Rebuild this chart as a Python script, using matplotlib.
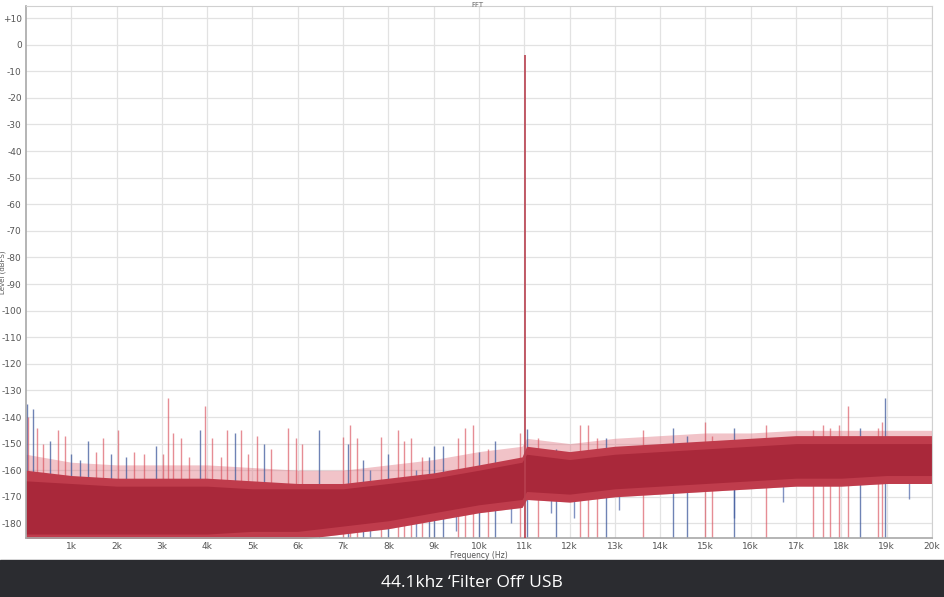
import numpy as np
import matplotlib.pyplot as plt
from matplotlib.patches import Rectangle

# noise floor envelope (Hz, dBFS)
env_freq = [0, 1000, 2000, 3000, 4000, 5000, 6000, 7000, 8000, 9000, 10000,
            10950, 11050, 12000, 13000, 14000, 15000, 16000, 17000, 18000, 19000, 20000]
grass_top = [-154, -157, -158, -158, -158, -159, -160, -160, -158, -156, -153,
             -151, -148, -150, -148, -147, -146, -146, -145, -145, -145, -145]
outer_top = [-160, -162, -163, -163, -163, -164, -165, -165, -163, -161, -158,
             -155, -151, -153, -151, -150, -149, -148, -147, -147, -147, -147]
outer_bot = [-186, -186, -186, -186, -186, -186, -186, -184, -182, -179, -176,
             -174, -171, -172, -170, -169, -168, -167, -166, -166, -165, -165]
core_top = [-164, -165, -166, -166, -166, -167, -167, -167, -165, -163, -160,
            -157, -154, -156, -154, -153, -152, -151, -150, -150, -150, -150]
core_bot = [-184, -184, -184, -184, -184, -183, -183, -181, -179, -176, -173,
            -171, -168, -169, -167, -166, -165, -164, -163, -163, -162, -162]

# spurs of the red trace
red_freq = [40, 240, 370, 700, 860, 1550, 1710, 2040, 2390, 2610, 3030, 3140, 3250,
            3420, 3600, 3950, 4100, 4300, 4440, 4750, 4900, 5110, 5420, 5790, 5960,
            6100, 6990, 7160, 7300, 7840, 8220, 8340, 8510, 8750, 9530, 9700, 9860,
            10200, 10910, 11300, 12240, 12400, 12600, 13610, 14990, 15150, 16340,
            17370, 17600, 17750, 17950, 18150, 18800, 18900]
red_top = [-140, -144, -150, -145, -147, -153, -148, -145, -153, -154, -154, -133, -146,
           -148, -155, -136, -148, -155, -145, -145, -154, -147, -152, -144, -148,
           -150, -147.5, -143, -148, -147.5, -145, -149, -148, -155, -148, -144, -143,
           -152, -146, -148, -143, -143, -148, -145, -142, -147, -143,
           -145, -143, -144, -143, -136, -144, -142]

# spurs of the blue trace
blue_freq = [20, 160, 520, 990, 1200, 1380, 1870, 2200, 2880, 3850, 4610, 5260, 6470,
             7100, 7450, 8000, 8900, 9010, 9200, 10000, 10350, 11060, 11700, 12800,
             14280, 14600, 15640, 18400, 18960]
blue_top = [-135, -137, -149, -154, -156, -149, -154, -155, -151, -145, -146, -150, -145,
            -150, -156, -154, -155, -151, -151, -153, -149, -144.5, -152, -148,
            -144, -147, -144, -144, -133]

# downward dips below the floor
dip_freq = [7600, 8600, 9500, 10700, 11600, 12100, 13100, 15640, 16700, 19500]
dip_low = [-186, -185, -183, -180, -176, -178, -175, -178, -172, -171]

tone_freq = 11025
tone_level = -4

x_ticks = list(range(1000, 20001, 1000))
x_labels = ['%dk' % (t // 1000) for t in x_ticks]
y_ticks = list(range(-180, 11, 10))
y_labels = ['+10' if t > 0 else str(t) for t in y_ticks]

fig = plt.figure(figsize=(9.44, 5.97), dpi=100)
ax = fig.add_axes([0.0275, 0.0988, 0.9598, 0.891])

red = '#a9283a'
ax.fill_between(env_freq, outer_bot, grass_top, color='#e07a86', alpha=0.45, lw=0, zorder=1.4)
ax.vlines(dip_freq, dip_low, -160, color='#4a64a8', lw=1, alpha=0.7, zorder=1.5)
ax.vlines(blue_freq, -186, blue_top, color='#3f5a9c', lw=1, alpha=0.75, zorder=1.6)
ax.vlines(red_freq, -186, red_top, color='#d9505c', lw=1, alpha=0.65, zorder=1.7)
ax.fill_between(env_freq, outer_bot, outer_top, color='#bf3c4c', lw=0, zorder=2)
ax.fill_between(env_freq, core_bot, core_top, color=red, lw=0, zorder=2.1)
ax.vlines([tone_freq], -186, tone_level, color='#b8404f', lw=1.2, zorder=3)

ax.set_xlim(0, 20000)
ax.set_ylim(-185.5, 14.5)
ax.set_xticks(x_ticks)
ax.set_xticklabels(x_labels)
ax.set_yticks(y_ticks)
ax.set_yticklabels(y_labels)
ax.tick_params(length=0, labelsize=6.5, labelcolor='#555555', pad=3)
ax.grid(True, color='#e2e2e2', lw=0.9)
ax.set_axisbelow(True)
for side in ['top', 'right']:
    ax.spines[side].set_color('#d0d0d0')
for side in ['left', 'bottom']:
    ax.spines[side].set_color('#a8a8a8')
    ax.spines[side].set_linewidth(1.2)

ax.set_xlabel('Frequency (Hz)', fontsize=5.5, color='#555555', labelpad=0)
ax.set_ylabel('Level (dBFS)', fontsize=5, color='#555555')
ax.yaxis.set_label_coords(-0.022, 0.5)
fig.text(0.506, 0.997, 'FFT', fontsize=5, color='#666666', ha='center', va='top')

# caption bar
fig.patches.append(Rectangle((0, 0), 1, 37 / 597, transform=fig.transFigure,
                             color='#2b2c30', zorder=0))
fig.text(0.5, 14 / 597, '44.1khz \u2018Filter Off\u2019 USB', fontsize=12.5,
         color='white', ha='center', va='center', family=['Open Sans', 'DejaVu Sans'])

fig.savefig('out.png', dpi=100)
